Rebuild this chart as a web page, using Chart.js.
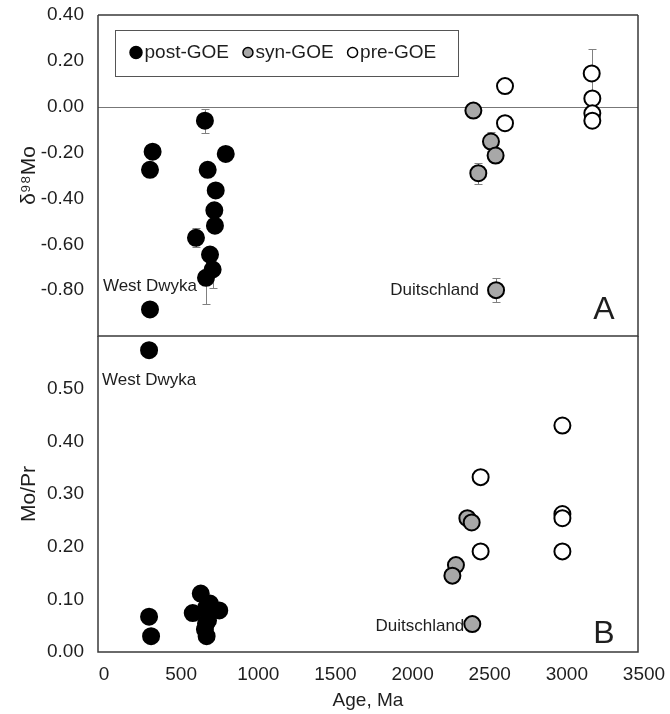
<!DOCTYPE html>
<html>
<head>
<meta charset="utf-8">
<script src="https://cdn.jsdelivr.net/npm/chart.js@4.4.1/dist/chart.umd.min.js"></script>
<style>
  body { margin: 0; background: #fff; }
  #wrap { position: relative; width: 670px; height: 714px; }
  canvas { position: absolute; left: 0; }
  #moChart { top: 0; }
  #ratioChart { top: 336px; }
</style>
</head>
<body>
<div id="wrap">
  <canvas id="moChart" width="670" height="340"></canvas>
  <canvas id="ratioChart" width="670" height="378"></canvas>
</div>
<script>
'use strict'

// Groups and age axis (Ma)
const groups = ['post-GOE', 'syn-GOE', 'pre-GOE']
const ageMin = 0
const ageMax = 3500
const ageStep = 500

// Panel A: d98Mo per group (age, value, error)
const postAgeA = [337, 354, 337, 693, 711, 828, 763, 754, 758, 635, 726, 743, 700]
const postMoA  = [-0.275, -0.196, -0.884, -0.061, -0.275, -0.206, -0.365, -0.452, -0.519, -0.572, -0.645, -0.71, -0.746]
const postErrA = [0, 0, 0, 0.053, 0, 0, 0, 0, 0, 0.042, 0, 0.08, 0.116]

const synAgeA = [2433, 2547, 2577, 2465, 2580]
const synMoA  = [-0.017, -0.152, -0.213, -0.29, -0.80]
const synErrA = [0, 0.043, 0, 0.045, 0.052]

const preAgeA = [2638, 2638, 3200, 3204, 3204, 3204]
const preMoA  = [0.09, -0.072, 0.145, 0.036, -0.029, -0.061]
const preErrA = [0, 0, 0.105, 0, 0, 0]

// Panel B: Mo/Pr per group
const postAgeB = [331, 331, 344, 666, 614, 726, 786, 700, 713, 700, 693, 704]
const postRatioB = [0.573, 0.067, 0.030, 0.111, 0.074, 0.092, 0.079, 0.084, 0.060, 0.054, 0.043, 0.030]

const synAgeB = [2394, 2422, 2320, 2297, 2426]
const synRatioB = [0.254, 0.246, 0.165, 0.145, 0.053]

const preAgeB = [3010, 2480, 3010, 3010, 2480, 3010]
const preRatioB = [0.430, 0.332, 0.262, 0.254, 0.191, 0.191]

// Labelled samples: [text, group index, point index]
const notesA = [['West Dwyka', 0, 2], ['Duitschland', 1, 4]]
const notesB = [['West Dwyka', 0, 0], ['Duitschland', 1, 4]]

const FONT = '"Liberation Sans", Arial, sans-serif'
const TEXT = '#1e1e1e'
const FILLS = ['#000000', '#a8a8a8', '#ffffff']

Chart.defaults.font.family = FONT
Chart.defaults.color = TEXT

function pts(ages, vals) {
  return ages.map((a, i) => ({x: a, y: vals[i]}))
}

function makeSet(i, ages, vals, errs) {
  return {
    label: groups[i],
    data: pts(ages, vals),
    errors: errs,
    backgroundColor: FILLS[i],
    pointBackgroundColor: FILLS[i],
    pointBorderColor: '#000',
    pointBorderWidth: 2,
    pointRadius: 8,
    clip: false
  }
}

// offsets of note text from its point, in px
const noteOffsets = {
  'West Dwyka': {A: [0, -23, 'center'], B: [0, 30, 'center']},
  'Duitschland': {A: [-17, 0, 'right'], B: [-8, 2, 'right']}
}

const errorBars = {
  id: 'errorBars',
  beforeDatasetsDraw(chart) {
    const {ctx, scales: {x, y}} = chart
    ctx.save()
    ctx.strokeStyle = '#808080'
    ctx.lineWidth = 1
    chart.data.datasets.forEach((ds) => {
      if (!ds.errors) return
      ds.data.forEach((p, i) => {
        const e = ds.errors[i]
        if (!e) return
        const px = Math.round(x.getPixelForValue(p.x)) + 0.5
        const top = Math.round(y.getPixelForValue(p.y + e)) + 0.5
        const bot = Math.round(y.getPixelForValue(p.y - e)) + 0.5
        ctx.beginPath()
        ctx.moveTo(px, top); ctx.lineTo(px, bot)
        ctx.moveTo(px - 4, top); ctx.lineTo(px + 4, top)
        ctx.moveTo(px - 4, bot); ctx.lineTo(px + 4, bot)
        ctx.stroke()
      })
    })
    ctx.restore()
  }
}

const zeroLine = {
  id: 'zeroLine',
  beforeDatasetsDraw(chart, args, opts) {
    if (!opts.show) return
    const {ctx, chartArea, scales: {y}} = chart
    const py = Math.round(y.getPixelForValue(0)) + 0.5
    ctx.save()
    ctx.strokeStyle = '#777'
    ctx.lineWidth = 1
    ctx.beginPath()
    ctx.moveTo(chartArea.left, py)
    ctx.lineTo(chartArea.right, py)
    ctx.stroke()
    ctx.restore()
  }
}

const frame = {
  id: 'frame',
  afterDraw(chart, args, opts) {
    const {ctx, chartArea: {left, right, top, bottom}} = chart
    ctx.save()
    ctx.strokeStyle = '#3a3a3a'
    ctx.lineWidth = 1.5
    ctx.beginPath()
    if (opts.top) {
      ctx.moveTo(left, top); ctx.lineTo(right, top)
    }
    ctx.moveTo(left, top); ctx.lineTo(left, bottom)
    ctx.lineTo(right, bottom); ctx.lineTo(right, top)
    ctx.stroke()
    ctx.restore()
  }
}

const notes = {
  id: 'notes',
  afterDatasetsDraw(chart, args, opts) {
    const {ctx, chartArea, scales: {x, y}} = chart
    ctx.save()
    ctx.fillStyle = TEXT
    ctx.textBaseline = 'middle'
    ctx.font = '17px ' + FONT
    opts.items.forEach(([text, set, idx]) => {
      const p = chart.data.datasets[set].data[idx]
      const [dx, dy, align] = noteOffsets[text][opts.panel]
      ctx.textAlign = align
      ctx.fillText(text, x.getPixelForValue(p.x) + dx, y.getPixelForValue(p.y) + dy)
    })
    ctx.font = '32px ' + FONT
    ctx.textAlign = 'center'
    ctx.fillText(opts.panel, chartArea.right - 34, chartArea.bottom - opts.letterLift)
    ctx.restore()
  }
}

const legendBox = {
  id: 'legendBox',
  afterDraw(chart, args, opts) {
    if (!opts.show) return
    const {ctx, chartArea} = chart
    const bx = chartArea.left + 17
    const by = chartArea.top + 15
    const bw = 343
    const bh = 46
    ctx.save()
    ctx.fillStyle = '#fff'
    ctx.fillRect(bx, by, bw, bh)
    ctx.strokeStyle = '#555'
    ctx.lineWidth = 1
    ctx.strokeRect(bx + 0.5, by + 0.5, bw, bh)
    ctx.font = '19px ' + FONT
    ctx.textBaseline = 'middle'
    ctx.textAlign = 'left'
    const cy = by + 22.5
    let cx = bx + 21
    chart.data.datasets.forEach((ds, i) => {
      const r = i === 0 ? 6 : 5
      if (i > 0) cx += r
      ctx.beginPath()
      ctx.arc(cx, cy, r, 0, Math.PI * 2)
      ctx.fillStyle = ds.backgroundColor
      ctx.fill()
      ctx.lineWidth = 1.5
      ctx.strokeStyle = '#000'
      ctx.stroke()
      ctx.fillStyle = TEXT
      const tx = cx + r + 2.5
      ctx.fillText(ds.label, tx, cy)
      cx = tx + ctx.measureText(ds.label).width + 14
    })
    ctx.restore()
  }
}

function yScale(min, max, step, title, hideAbove, hideBelow) {
  return {
    type: 'linear',
    min: min,
    max: max,
    grid: {display: false, drawTicks: false},
    border: {display: false},
    ticks: {
      stepSize: step,
      padding: 14,
      color: TEXT,
      font: {size: 19},
      callback: (v) => {
        if (v > hideAbove || v < hideBelow) return ''
        return Math.abs(v) < 1e-9 ? '0.00' : v.toFixed(2)
      }
    },
    title: {
      display: true,
      text: title,
      color: TEXT,
      font: {size: 21},
      padding: {top: 17, bottom: 0}
    },
    afterFit(s) {
      s.width = 98
      s.paddingTop = 0
      s.paddingBottom = 0
    }
  }
}

const base = {
  responsive: false,
  animation: false,
  devicePixelRatio: 1,
  events: []
}

new Chart(document.getElementById('moChart'), {
  type: 'scatter',
  data: {
    datasets: [
      makeSet(0, postAgeA, postMoA, postErrA),
      makeSet(1, synAgeA, synMoA, synErrA),
      makeSet(2, preAgeA, preMoA, preErrA)
    ]
  },
  options: {
    ...base,
    layout: {autoPadding: false, padding: {left: 0, right: 32, top: 15, bottom: 4}},
    scales: {
      x: {type: 'linear', min: ageMin, max: ageMax, display: false},
      y: yScale(-1, 0.4, 0.2, 'δ⁹⁸Mo', 1, -0.99)
    },
    plugins: {
      legend: {display: false},
      tooltip: {enabled: false},
      zeroLine: {show: true},
      frame: {top: true},
      notes: {items: notesA, panel: 'A', letterLift: 26},
      legendBox: {show: true}
    }
  },
  plugins: [errorBars, zeroLine, frame, notes, legendBox]
})

new Chart(document.getElementById('ratioChart'), {
  type: 'scatter',
  data: {
    datasets: [
      makeSet(0, postAgeB, postRatioB, null),
      makeSet(1, synAgeB, synRatioB, null),
      makeSet(2, preAgeB, preRatioB, null)
    ]
  },
  options: {
    ...base,
    layout: {autoPadding: false, padding: {left: 0, right: 32, top: 0, bottom: 0}},
    scales: {
      x: {
        type: 'linear',
        min: ageMin,
        max: ageMax,
        grid: {display: false, drawTicks: false},
        border: {display: false},
        ticks: {
          stepSize: ageStep,
          padding: 11,
          labelOffset: 6,
          color: TEXT,
          font: {size: 19},
          maxRotation: 0,
          callback: (v) => String(v)
        },
        title: {display: true, text: 'Age, Ma', color: TEXT, font: {size: 19}, padding: {top: 0, bottom: 2}},
        afterFit(s) {
          s.height = 62
          s.paddingLeft = 0
          s.paddingRight = 0
        }
      },
      y: yScale(0, 0.6, 0.1, 'Mo/Pr', 0.59, -1)
    },
    plugins: {
      legend: {display: false},
      tooltip: {enabled: false},
      zeroLine: {show: false},
      frame: {top: false},
      notes: {items: notesB, panel: 'B', letterLift: 18},
      legendBox: {show: false}
    }
  },
  plugins: [errorBars, zeroLine, frame, notes, legendBox]
})
</script>
</body>
</html>
